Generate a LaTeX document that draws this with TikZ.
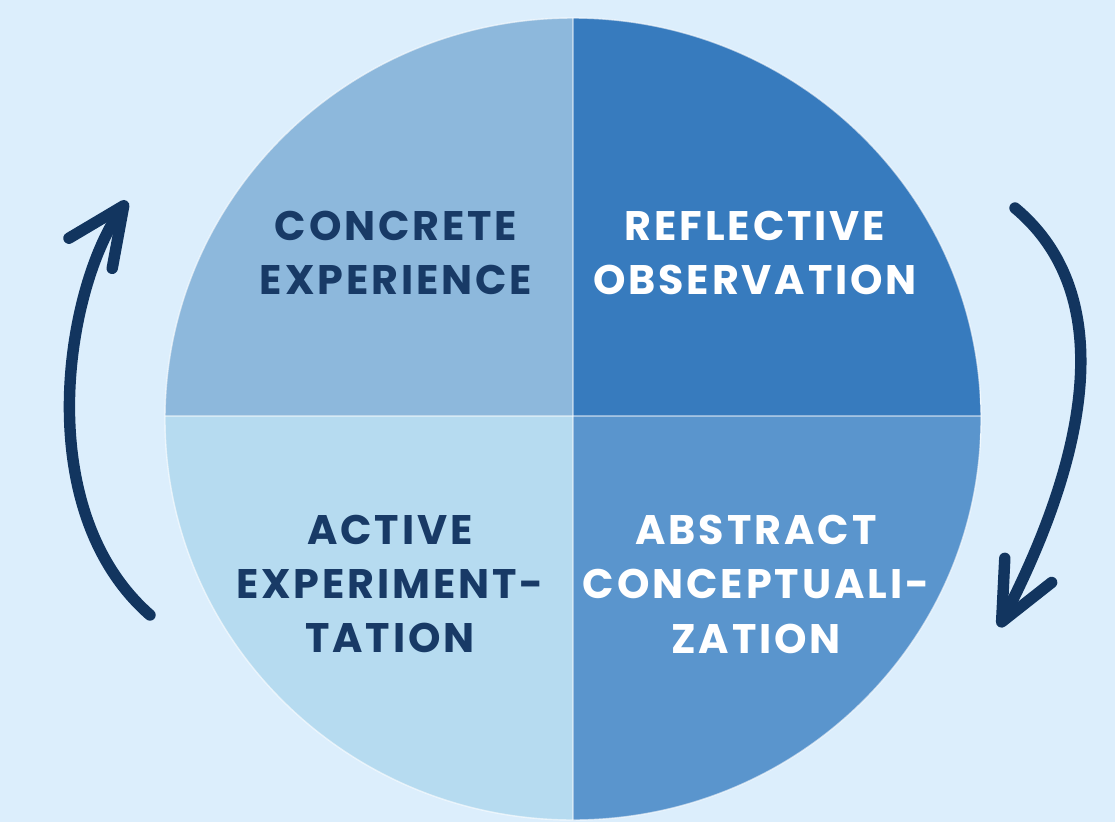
\documentclass[tikz,border=0pt]{standalone}
\usepackage{fontspec}
\setmainfont{Poppins}[LetterSpace=7]
\usetikzlibrary{arrows.meta, positioning}
\definecolor{bgblue}{HTML}{DCEEFC}
\definecolor{ceblue}{HTML}{8DB8DC}
\definecolor{roblue}{HTML}{377BBE}
\definecolor{aeblue}{HTML}{B6DBF0}
\definecolor{acblue}{HTML}{5A95CD}
\definecolor{navy}{HTML}{183A66}
\definecolor{arrownavy}{HTML}{12355F}

\begin{document}
\begin{tikzpicture}
	% style
	[x=0.02cm, y=-0.02cm,
	quad_dark/.style={align=center, text=navy, inner sep=0pt, font=\fontsize{23.5}{31}\selectfont\bfseries},
	quad_light/.style={quad_dark, text=white},
	divider/.style={draw=white, opacity=0.45, line width=0.6pt},
	cycle_arrow/.style={draw=arrownavy, line width=6.5pt, line cap=round, -{Straight Barb[round, length=33pt, width=30pt]}}]

	% background
	\fill[bgblue] (0,0) rectangle (1115,822);
	\useasboundingbox (0,0) rectangle (1115,822);

	% quadrants
	\begin{scope}
		\clip (573,419) ellipse [x radius=408, y radius=401];
		\fill[ceblue] (165,0) rectangle (573,416);
		\fill[roblue] (573,0) rectangle (981,416);
		\fill[aeblue] (165,416) rectangle (573,822);
		\fill[acblue] (573,416) rectangle (981,822);
		\draw[divider] (573,0) -- (573,822);
		\draw[divider] (165,416) -- (981,416);
	\end{scope}
	\draw[white, opacity=0.6, line width=0.8pt] (573,419) ellipse [x radius=408, y radius=401];

	% labels
	\node [quad_dark] (concrete) at (396,253) {CONCRETE\\EXPERIENCE};
	\node [quad_light] (reflective) at (755,253) {REFLECTIVE\\OBSERVATION};
	\node [quad_dark] (active) at (390,584) {ACTIVE\\EXPERIMENT-\\TATION};
	\node [quad_light] (abstract) at (756,584) {ABSTRACT\\CONCEPTUALI-\\ZATION};

	% cycle arrows
	\coordinate (left_tail) at (150,615);
	\coordinate (left_head) at (127,201);
	\coordinate (right_tail) at (1015,208);
	\coordinate (right_head) at (999,627);
	\draw[cycle_arrow] (left_tail) .. controls (30,510) and (65,290) .. (left_head);
	\draw[cycle_arrow] (right_tail) .. controls (1125,300) and (1080,470) .. (right_head);
\end{tikzpicture}
\end{document}
